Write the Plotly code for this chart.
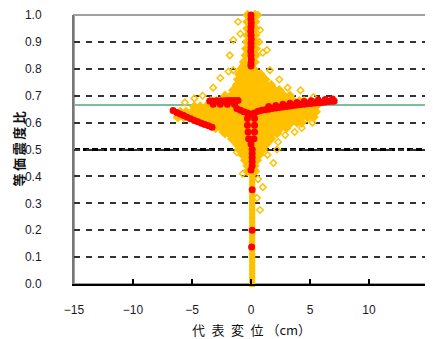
import plotly.graph_objects as go

# ---------------- data ----------------
# dense yellow cloud, listed row by row: (y, [x values])
yellow_rows = [
    (1.000, [-0.3, 0.35]), (0.975, [-0.3, 0.35]), (0.950, [-0.3, 0.35]),
    (0.925, [-0.3, 0.35]), (0.900, [-0.35, 0.4]), (0.875, [-0.4, 0.4]),
    (0.850, [-0.45, 0.4]), (0.825, [-0.6, 0.3]),
    (0.800, [-0.8, -0.3, 0.2]),
    (0.780, [-1.0, -0.5, 0.0, 0.5, 0.8]),
    (0.760, [-1.1, -0.6, -0.1, 0.4, 0.9, 1.2]),
    (0.740, [-1.2, -0.7, -0.2, 0.3, 0.8, 1.3, 1.7]),
    (0.720, [-1.5, -1.0, -0.5, 0.0, 0.5, 1.0, 1.5, 2.0, 2.4]),
    (0.700, [-2.2, -1.7, -1.2, -0.7, -0.2, 0.3, 0.8, 1.3, 1.8, 2.3, 2.8, 3.3]),
    (0.680, [-3.4, -2.9, -2.4, -1.9, -1.4, -0.9, -0.4, 0.1, 0.6, 1.1, 1.6, 2.1, 2.6, 3.1, 3.6, 4.1, 4.5]),
    (0.660, [-4.8, -4.3, -3.8, -3.3, -2.8, -2.3, -1.8, -1.3, -0.8, -0.3, 0.2, 0.7, 1.2, 1.7, 2.2, 2.7, 3.2, 3.7, 4.2, 4.7, 5.2, 5.5]),
    (0.640, [-6.0, -5.5, -5.0, -4.5, -4.0, -3.5, -3.0, -2.5, -2.0, -1.5, -1.0, -0.5, 0.0, 0.5, 1.0, 1.5, 2.0, 2.5, 3.0, 3.5, 4.0, 4.5, 5.0, 5.5]),
    (0.620, [-6.2, -5.7, -5.2, -4.7, -4.2, -3.7, -3.2, -2.7, -2.2, -1.7, -1.2, -0.7, -0.2, 0.3, 0.8, 1.3, 1.8, 2.3, 2.8, 3.3, 3.8, 4.3, 4.8, 5.3]),
    (0.600, [-4.1, -3.6, -3.1, -2.6, -2.1, -1.6, -1.1, -0.6, -0.1, 0.4, 0.9, 1.4, 1.9, 2.4, 2.9, 3.4, 3.9, 4.3]),
    (0.580, [-3.0, -2.5, -2.0, -1.5, -1.0, -0.5, 0.0, 0.5, 1.0, 1.5, 2.0, 2.5, 3.0]),
    (0.560, [-2.2, -1.7, -1.2, -0.7, -0.2, 0.3, 0.8, 1.3, 1.8, 2.2]),
    (0.540, [-1.6, -1.1, -0.6, -0.1, 0.4, 0.9, 1.4, 1.7]),
    (0.520, [-1.2, -0.7, -0.2, 0.3, 0.8, 1.3]),
    (0.500, [-1.0, -0.5, 0.0, 0.5, 1.0]),
    (0.480, [-0.7, -0.2, 0.3, 0.7]),
    (0.460, [-0.5, 0.0, 0.5]),
    (0.440, [-0.3, 0.3]),
    (0.420, [-0.3, 0.35]),
]
# yellow stem below the cloud
stem_y = [0.00, 0.015, 0.03, 0.045, 0.06, 0.075, 0.09, 0.105, 0.12, 0.135,
          0.15, 0.165, 0.18, 0.195, 0.21, 0.225, 0.24, 0.255, 0.27, 0.285,
          0.30, 0.315, 0.33, 0.345, 0.36, 0.375, 0.39, 0.405]
stem_x = [0.1] * len(stem_y)

# scattered yellow outliers (open diamonds)
out_x = [-1.1, 0.6, -0.7, 1.35, 0.76, -1.5, -1.5, 1.6, 3.1, 4.2, 5.3,
         5.2, 4.3, 3.7, 2.9, 2.3, 1.9, 1.4,
         -1.8, -2.4, -2.9, -1.2, -2.6, -3.2, -4.1, -1.9, -1.8,
         -0.7, 1.0, 0.76, 0.6, 2.4, -0.9, 1.0, 0.7, 0.5, 2.2, -4.8, -5.6]
out_y = [0.975, 1.0, 0.81, 0.87, 0.944, 0.907, 0.795, 0.795, 0.73, 0.72, 0.695,
         0.60, 0.58, 0.565, 0.554, 0.528, 0.45, 0.48,
         0.554, 0.565, 0.584, 0.49, 0.766, 0.73, 0.70, 0.79, 0.85,
         0.41, 0.36, 0.275, 0.39, 0.76, 0.93, 0.86, 0.90, 0.32, 0.50, 0.69, 0.675]

# red points
red_x = [0.0, 0.0, 0.02, 0.0, -0.02, 0.0, 0.02, 0.0, 0.0, -0.02, 0.0, 0.02, 0.0, 0.0,
         # Y junction and right arm
         -1.2, -0.9, -0.6, -0.3, 0.0, 0.3, 0.6, 0.9, 1.2, 1.5, 1.8, 2.1, 2.4, 2.7, 3.0,
         3.3, 3.6, 3.9, 4.2, 4.5, 4.8, 5.1, 5.4, 5.7, 6.0, 6.3, 6.6, 6.9, 7.05,
         1.5, 2.1, 2.7, 3.3, 3.9, 4.5, 5.1, 5.7, 6.3, 6.9,
         # stem below junction
         -0.3, 0.3, -0.3, 0.3, -0.25, 0.3, -0.2, 0.25, 0.0, 0.1, 0.1, 0.1, 0.1, 0.1,
         # isolated dots
         0.0, 0.1, 0.1, 0.05,
         # left upper arm
         -3.5, -3.2, -2.9, -2.6, -2.3, -2.0, -1.7, -1.4, -1.1, -3.2, -2.6, -2.0, -1.4,
         # left lower arm
         -6.6, -6.3, -6.0, -5.7, -5.4, -5.1, -4.8, -4.5, -4.2, -3.9, -3.6, -3.3]
red_y = [1.0, 0.985, 0.97, 0.955, 0.94, 0.925, 0.91, 0.895, 0.88, 0.865, 0.85, 0.835, 0.82, 0.81,
         0.652, 0.646, 0.64, 0.636, 0.632, 0.636, 0.642, 0.646, 0.648, 0.650, 0.652, 0.654, 0.656, 0.658, 0.660,
         0.662, 0.664, 0.665, 0.667, 0.668, 0.670, 0.671, 0.673, 0.674, 0.675, 0.677, 0.678, 0.679, 0.680,
         0.660, 0.664, 0.668, 0.672, 0.675, 0.678, 0.681, 0.684, 0.686, 0.688,
         0.615, 0.615, 0.59, 0.59, 0.565, 0.565, 0.54, 0.54, 0.52, 0.50, 0.485, 0.47, 0.455, 0.44,
         0.424, 0.35, 0.20, 0.138,
         0.680, 0.680, 0.681, 0.681, 0.681, 0.682, 0.682, 0.682, 0.682, 0.668, 0.668, 0.668, 0.668,
         0.645, 0.638, 0.632, 0.626, 0.620, 0.614, 0.608, 0.603, 0.598, 0.593, 0.588, 0.583]

green_level = 0.665
bold_level = 0.5

x_ticks = [-15, -10, -5, 0, 5, 10, 15]
y_ticks = [0.0, 0.1, 0.2, 0.3, 0.4, 0.5, 0.6, 0.7, 0.8, 0.9, 1.0]

x_title = "代\u2002表\u2002変\u2002位 （cm）"
y_title = "<b>等\u2009価\u2009震\u2009度\u2009比</b>"

# ---------------- figure ----------------
yx, yy = [], []
for yv, xs in yellow_rows:
    for xv in xs:
        yx.append(xv)
        yy.append(yv)

YELLOW = "#FFC000"
fig = go.Figure()
fig.add_trace(go.Scatter(x=stem_x, y=stem_y, mode="markers", cliponaxis=False,
                         marker=dict(symbol="square", size=6, color=YELLOW),
                         hoverinfo="skip"))
fig.add_trace(go.Scatter(x=yx, y=yy, mode="markers", cliponaxis=False,
                         marker=dict(symbol="diamond", size=8, color=YELLOW),
                         hoverinfo="skip"))
fig.add_trace(go.Scatter(x=out_x, y=out_y, mode="markers", cliponaxis=False,
                         marker=dict(symbol="diamond-open", size=5, color=YELLOW,
                                     line=dict(width=1.5, color=YELLOW)),
                         hoverinfo="skip"))
fig.add_trace(go.Scatter(x=red_x, y=red_y, mode="markers", cliponaxis=False,
                         marker=dict(symbol="circle", size=7, color="#FF0000"),
                         hoverinfo="skip"))

fig.add_shape(type="line", xref="paper", x0=0, x1=1, yref="y", y0=green_level, y1=green_level,
              line=dict(color="#4DAA7A", width=1.5), layer="between")
fig.add_shape(type="line", xref="paper", x0=0, x1=1, yref="y", y0=bold_level, y1=bold_level,
              line=dict(color="#000000", width=3, dash="6px,3px"), layer="between")
fig.add_shape(type="rect", xref="paper", yref="paper", x0=0, x1=1, y0=0, y1=1,
              line=dict(color="#A0A0A0", width=2), layer="between")

fig.add_annotation(text=x_title, xref="paper", yref="paper", x=0.5, y=-0.171,
                   xanchor="center", yanchor="middle", showarrow=False,
                   font=dict(family="Noto Sans CJK JP", size=13, color="#111"))
fig.add_annotation(text=y_title, xref="paper", yref="paper", x=-0.158, y=0.5,
                   xanchor="center", yanchor="middle", showarrow=False, textangle=-90,
                   font=dict(family="Noto Sans CJK JP", size=13, color="#111"))

tickfont = dict(family="Liberation Sans, Arial", size=12, color="#1a1a2a")
fig.update_layout(
    width=425, height=331,
    margin=dict(l=66, r=5, t=7, b=55),
    paper_bgcolor="white", plot_bgcolor="white",
    showlegend=False,
    xaxis=dict(range=[-15, 15], tickvals=x_ticks, ticks="inside", ticklen=5,
               tickwidth=1.5, tickcolor="#000", showgrid=False, zeroline=False,
               showline=True, linecolor="#000", linewidth=2, automargin=False,
               tickfont=tickfont, ticklabelstandoff=14),
    yaxis=dict(range=[0, 1.0], tickvals=y_ticks, tickformat=".1f", ticks="",
               showgrid=True, gridcolor="#333333", gridwidth=1.5, griddash="6px,6px",
               zeroline=False, showline=True, linecolor="#777", linewidth=2, automargin=False,
               tickfont=tickfont, ticklabelstandoff=28),
)

fig.write_html("out.html")
